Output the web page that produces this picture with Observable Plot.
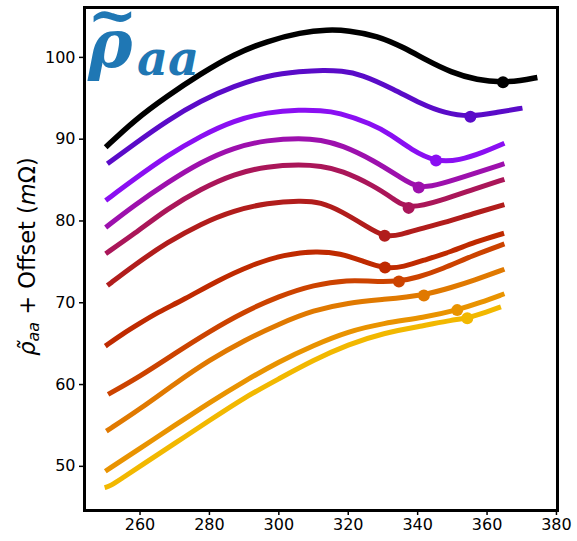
<!DOCTYPE html>
<html><head><meta charset="utf-8">
<script src="https://cdn.jsdelivr.net/npm/d3@7"></script>
<script src="https://cdn.jsdelivr.net/npm/@observablehq/plot@0.6"></script>
<style>body{margin:0;background:#fff}</style>
</head><body><div id="chart"></div>
<script>
const xTicks = [260, 280, 300, 320, 340, 360, 380];
const yTicks = [50, 60, 70, 80, 90, 100];
const curveColors = ["#000000", "#5a0bc8", "#8a0ff2", "#9d10ad", "#aa1659", "#b11d1c", "#bf2a00", "#cc4300", "#e07900", "#e99300", "#f2b800"];

const curve0 = [[250.1,89.0],[258.3,92.3],[267.9,95.3],[277.5,98.0],[287.1,100.4],[296.7,102.0],[306.3,103.05],[314,103.4],[320,103.3],[328.4,102.65],[336.1,101.2],[342.8,99.6],[349.5,98.2],[357.2,97.2],[364.6,96.95],[369.5,97.15],[374.5,97.55]];
const curve1 = [[250.6,87.0],[258.3,89.4],[267.9,92.3],[277.5,94.7],[287.1,96.5],[296.7,97.8],[306.3,98.3],[313,98.45],[318,98.35],[323.6,97.97],[333.2,96.1],[341,94.3],[347.7,93.2],[355.2,92.7],[363.1,93.3],[370.2,93.8]];
const curve2 = [[250.1,82.5],[258.3,85.1],[267.9,88.0],[277.5,90.4],[287.1,92.3],[296.7,93.3],[306.3,93.6],[312.1,93.5],[317,93.3],[326.6,91.9],[332.2,90.6],[338.2,88.7],[345.3,87.2],[352,87.4],[359,88.4],[365,89.5]];
const curve3 = [[250.1,79.2],[258.3,81.9],[267.9,84.7],[277.5,87.2],[287.1,89.0],[296.7,89.9],[306.3,90.15],[312.1,89.9],[318,89.3],[327.4,87.4],[335.1,85.3],[340.3,83.9],[346.7,84.5],[356.3,85.8],[365,87.0]];
const curve4 = [[250.1,76.0],[258.3,78.4],[267.9,81.5],[277.5,83.9],[287.1,85.75],[296.7,86.7],[306.3,86.9],[312.1,86.7],[318,86.2],[327.4,84.3],[333,82.7],[337.4,81.4],[346.7,82.5],[356.3,83.9],[365,85.1]];
const curve5 = [[250.6,72.1],[258.3,74.6],[267.9,77.4],[277.5,79.65],[287.1,81.3],[296.7,82.2],[306.3,82.5],[312.1,82.3],[318,81.2],[325,79.4],[330.5,78.0],[335,78.3],[342,79.2],[347,79.7],[356,80.9],[365,82.0]];
const curve6 = [[250,64.7],[255,66.2],[260,67.5],[265,68.8],[272.7,70.4],[282.3,72.7],[291.9,74.6],[301.5,75.9],[311.1,76.35],[317.8,76.0],[323.6,75.2],[330.6,74.1],[336,74.4],[341.8,75.2],[350,76.3],[356.3,77.4],[364.9,78.5]];
const curve7 = [[250.8,58.8],[260,61.0],[270,63.8],[280,66.5],[290,68.9],[300,70.8],[310,72.2],[320,72.8],[327,72.6],[334.6,72.6],[340,73.1],[347,74.1],[356,75.8],[365,77.2]];
const curve8 = [[250.3,54.3],[260,57.0],[270,60.1],[280,63.0],[290,65.4],[300,67.4],[310,69.1],[320,70.0],[330,70.4],[341.8,70.9],[350,71.9],[356,72.7],[365,74.1]];
const curve9 = [[250,49.4],[260,52.2],[270,55.0],[280,57.8],[290,60.4],[300,62.8],[310,64.8],[320,66.5],[330,67.5],[341.8,68.2],[351.4,69.1],[358,70.0],[365,71.1]];
const curve10 = [[249.8,47.4],[251.5,47.6],[255,48.6],[260,50.0],[270,52.8],[280,55.6],[290,58.4],[300,60.7],[310,63.0],[320,64.9],[330,66.3],[341.8,67.2],[350,67.9],[354.3,68.1],[360,68.9],[364,69.5]];

const minX = [364.6, 355.2, 345.3, 340.3, 337.4, 330.5, 330.6, 334.6, 341.8, 351.4, 354.3];
const minY = [96.95, 92.75, 87.4, 84.1, 81.6, 78.2, 74.3, 72.6, 70.9, 69.1, 68.1];

const curves = [curve0, curve1, curve2, curve3, curve4, curve5, curve6, curve7, curve8, curve9, curve10];

const marks = [
  Plot.axisX({ticks: xTicks, tickSize: 5, tickPadding: 3, fontSize: 16, label: null, strokeWidth: 1.5}),
  Plot.axisY({ticks: yTicks, tickSize: 5, tickPadding: 4, fontSize: 16, label: null, strokeWidth: 1.5})
];
curves.forEach((c, i) => {
  marks.push(Plot.line(c, {x: d => d[0], y: d => d[1], stroke: curveColors[i], strokeWidth: i === 0 ? 5.5 : 5, curve: "basis", strokeLinecap: "butt"}));
  marks.push(Plot.dot([{x: minX[i], y: minY[i]}], {x: "x", y: "y", r: 6, fill: curveColors[i], stroke: "none"}));
});
marks.push(Plot.frame({stroke: "#000", strokeWidth: 3}));

const chart = Plot.plot({
  width: 577, height: 541,
  marginLeft: 84, marginRight: 20, marginTop: 7, marginBottom: 31,
  style: {fontFamily: "DejaVu Sans", fontSize: "16px", color: "#000", background: "#fff"},
  x: {domain: [244.0, 380.3]},
  y: {domain: [44.6, 106.1]},
  marks
});

const svg = d3.select(chart);
// y-axis label
const yl = svg.append("text")
  .attr("transform", "translate(35,256.5) rotate(-90)")
  .attr("text-anchor", "middle")
  .attr("font-family", "DejaVu Sans")
  .attr("font-size", 22.5)
  .attr("fill", "#000");
yl.append("tspan").attr("font-style", "italic").text("ρ\u0303");
yl.append("tspan").attr("font-style", "italic").attr("font-size", 16).attr("dy", 4).text("aa");
yl.append("tspan").attr("dy", -4).text(" + Offset (");
yl.append("tspan").attr("font-style", "italic").text("m");
yl.append("tspan").text("Ω)");

// big title in the corner
const tg = svg.append("g").attr("fill", "#1f77b4").attr("font-family", "DejaVu Serif").attr("font-weight", "bold").attr("font-style", "italic").attr("text-anchor", "start");
tg.append("text").attr("x", 88).attr("y", 67).attr("font-size", 67).text("ρ");
tg.append("text").attr("x", 112.5).attr("y", 35).attr("font-size", 60).attr("text-anchor", "middle").text("~");
tg.append("text").attr("x", 137).attr("y", 75).attr("font-size", 48).text("aa");

document.getElementById("chart").appendChild(chart);
</script>
</body></html>
